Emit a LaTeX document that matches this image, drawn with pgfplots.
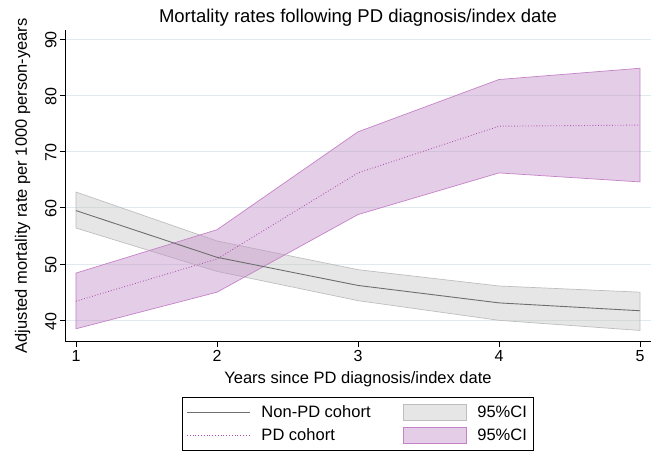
\documentclass[border=0pt]{standalone}
\usepackage{pgfplots}
\pgfplotsset{compat=1.18}
\usepackage{fontspec}
\setmainfont{Liberation Sans}
\definecolor{gridc}{RGB}{222,234,238}
\definecolor{grayfill}{RGB}{200,200,200}
\definecolor{grayedge}{RGB}{190,190,190}
\definecolor{grayline}{RGB}{110,110,110}
\definecolor{purpfill}{RGB}{196,145,201}
\definecolor{purpedge}{RGB}{196,130,200}
\definecolor{purpline}{RGB}{175,80,175}
\begin{document}
\begin{tikzpicture}
\useasboundingbox (-65pt,-108.3pt) rectangle (595pt,341.7pt);
\begin{axis}[
  at={(0pt,0pt)}, anchor=south west,
  scale only axis, width=586pt, height=311.7pt,
  xmin=0.922, xmax=5.078, ymin=36.2, ymax=91.6,
  axis x line*=bottom, axis y line*=left,
  axis line style={black, line width=0.9pt},
  xtick={1,2,3,4,5}, ytick={40,50,60,70,80,90},
  tick align=outside, major tick length=5pt,
  tick style={black, line width=0.8pt},
  ymajorgrids, grid style={gridc, line width=0.8pt},
  /pgf/number format/assume math mode=true,
  ticklabel style={font=\fontsize{16}{18}\selectfont},
  yticklabel style={rotate=90, anchor=south, xshift=-1pt},
  xticklabel style={yshift=0pt},
  xlabel={Years since PD diagnosis/index date},
  ylabel={Adjusted mortality rate per 1000 person-years},
  label style={font=\fontsize{16.5}{18}\selectfont},
  xlabel style={yshift=-3pt},
  ylabel style={yshift=8pt},
  title={Mortality rates following PD diagnosis/index date},
  title style={font=\fontsize{18.5}{20}\selectfont, yshift=-6pt},
  legend columns=2,
  legend cell align=left,
  legend style={at={(0.2,-0.176)}, anchor=north west, draw=black, line width=0.6pt,
    font=\fontsize{16.5}{18}\selectfont, inner xsep=4pt, inner ysep=6.5pt,
    /tikz/every even column/.append style={column sep=30pt},
    /tikz/every odd column/.append style={column sep=9pt},
    row sep=5.5pt},
]
% Non-PD CI band
\addplot[forget plot, fill=grayfill, fill opacity=0.45, draw=grayedge, line width=0.7pt]
  coordinates {(1,62.8) (2,54.1) (3,49.0) (4,46.1) (5,45.0)
               (5,38.2) (4,40.0) (3,43.5) (2,48.7) (1,56.4)} -- cycle;
% PD CI band
\addplot[forget plot, fill=purpfill, fill opacity=0.45, draw=purpedge, line width=0.7pt]
  coordinates {(1,48.4) (2,56.1) (3,73.5) (4,82.8) (5,84.8)
               (5,64.6) (4,66.2) (3,58.8) (2,45.0) (1,38.5)} -- cycle;
% Non-PD line
\addplot[forget plot, grayline, line width=0.9pt]
  coordinates {(1,59.5) (2,51.2) (3,46.2) (4,43.1) (5,41.7)};
% PD line
\addplot[forget plot, purpline, line width=0.9pt, dash pattern=on 0.8pt off 2pt]
  coordinates {(1,43.4) (2,50.9) (3,66.2) (4,74.5) (5,74.7)};
% legend entries
\addlegendimage{legend image code/.code={\draw[grayline, line width=1pt] (0pt,0pt) -- (63pt,0pt);}}
\addlegendentry{Non-PD cohort}
\addlegendimage{legend image code/.code={\draw[fill=grayfill, fill opacity=0.45, draw=grayedge, line width=0.7pt] (0pt,-8pt) rectangle (63pt,8pt);}}
\addlegendentry{95\%CI}
\addlegendimage{legend image code/.code={\draw[purpline, line width=0.9pt, dash pattern=on 0.8pt off 2pt] (0pt,0pt) -- (63pt,0pt);}}
\addlegendentry{PD cohort}
\addlegendimage{legend image code/.code={\draw[fill=purpfill, fill opacity=0.45, draw=purpedge, line width=0.7pt] (0pt,-8pt) rectangle (63pt,8pt);}}
\addlegendentry{95\%CI}
\end{axis}
\end{tikzpicture}
\end{document}
